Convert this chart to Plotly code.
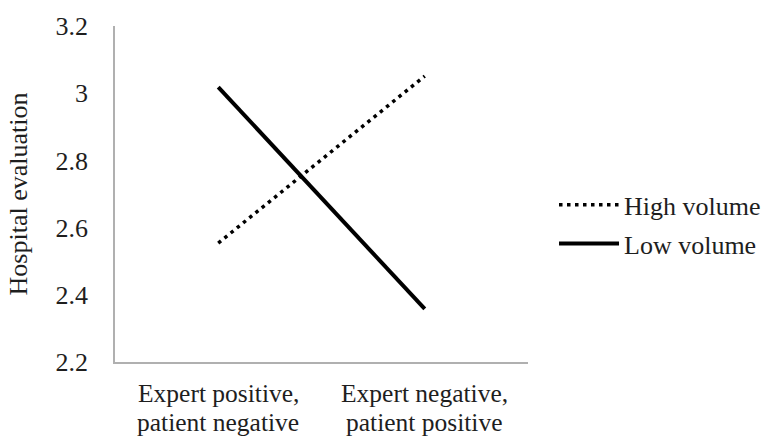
import plotly.graph_objects as go

categories = ["Expert positive,<br>patient negative", "Expert negative,<br>patient positive"]
high_volume = [2.554, 3.051]
low_volume = [3.018, 2.358]
y_ticks = [2.2, 2.4, 2.6, 2.8, 3.0, 3.2]
y_tick_labels = ["2.2", "2.4", "2.6", "2.8", "3", "3.2"]

font = "Liberation Serif"
txt = "#1e1e1e"

fig = go.Figure()
fig.add_trace(go.Scatter(x=categories, y=high_volume, mode="lines", name="High volume",
                         legendgroup="h",
                         line=dict(color="black", width=3.5, dash="3.5px,4.5px")))
fig.add_trace(go.Scatter(x=categories, y=low_volume, mode="lines", name="Low volume",
                         legendgroup="l",
                         line=dict(color="black", width=4)))

# category labels: two tightly spaced lines each
for cat in categories:
    for i, part in enumerate(cat.split("<br>")):
        fig.add_annotation(x=cat, xref="x", y=0, yref="paper", yanchor="top",
                           yshift=-16 - 28.5 * i, text=part, showarrow=False,
                           borderpad=0,
                           font=dict(family=font, size=25.5, color=txt))

fig.update_layout(
    width=764, height=437,
    margin=dict(l=115, r=236, t=26, b=75, autoexpand=False),
    plot_bgcolor="white", paper_bgcolor="white",
    font=dict(family=font, size=26, color=txt),
    showlegend=True,
    legend=dict(x=1.063, y=0.41, xanchor="left", yanchor="middle",
                font=dict(family=font, size=26, color=txt),
                itemwidth=60, tracegroupgap=2, bgcolor="rgba(0,0,0,0)"),
    xaxis=dict(type="category", range=[-0.5, 1.5], showline=True, linecolor="#b0b0b0",
               linewidth=1.5, showgrid=False, zeroline=False, ticks="",
               showticklabels=False),
    yaxis=dict(range=[2.2, 3.2], tickvals=y_ticks, ticktext=y_tick_labels,
               showline=True, linecolor="#b0b0b0", linewidth=1.5, showgrid=False,
               zeroline=False, ticks="", ticklabelstandoff=20,
               tickfont=dict(family=font, size=26, color=txt),
               title=dict(text="Hospital evaluation", standoff=20,
                          font=dict(family=font, size=26, color=txt))),
)
fig.write_html("out.html", config={"displayModeBar": False},
               post_script="document.body.style.margin='0';document.body.style.overflow='hidden';")
